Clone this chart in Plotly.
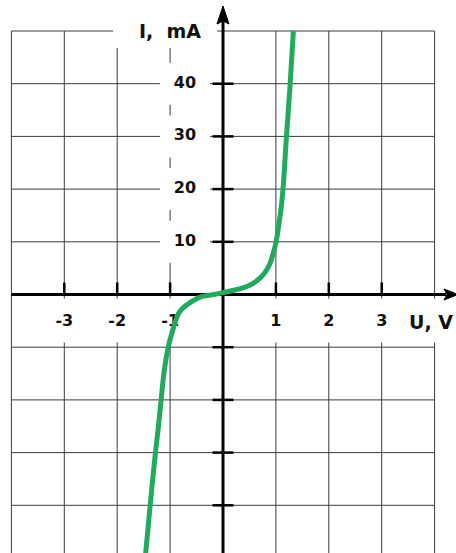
import plotly.graph_objects as go

# Current-voltage characteristic: U in volts, I in milliamps
voltage = [-1.47, -1.38, -1.28, -1.22, -1.17, -1.135, -1.10, -1.04, -0.98, -0.93,
           -0.84, -0.75, -0.66, -0.55, -0.43, -0.30, -0.17, 0.0, 0.20, 0.39,
           0.55, 0.64, 0.78, 0.875, 0.94, 1.00, 1.045, 1.09, 1.13, 1.20, 1.27, 1.33]
current = [-50.0, -40.3, -30.3, -25.0, -20.0, -16.5, -13.7, -10.2, -7.8, -6.1,
           -3.6, -2.5, -1.8, -1.1, -0.5, -0.2, 0.0, 0.35, 0.8, 1.3,
           2.0, 2.6, 4.0, 5.6, 7.5, 9.8, 12.6, 15.7, 19.5, 30.0, 40.0, 50.0]

# Axis labelling
x_tick_values = [-3, -2, -1, 1, 2, 3]
x_tick_labels = ["-3", "-2", "-1", "1", "2", "3"]
y_tick_values = [10, 20, 30, 40]
y_tick_labels = ["10", "20", "30", "40"]
y_tick_marks = [-40, -30, -20, -10, 10, 20, 30, 40]
grid_u = [-4, -3, -2, -1, 1, 2, 3, 4]
grid_i = [-40, -30, -20, -10, 10, 20, 30, 40, 50]

W, H = 456, 553
ORIGIN_X, ORIGIN_Y = 223.0, 294.5   # pixel position of (0, 0)
PX_PER_V, PX_PER_MA = 52.9, 5.27


def dx(px):
    return px / PX_PER_V


def dy(px):
    return px / PX_PER_MA


x_range = [-ORIGIN_X / PX_PER_V, (W - ORIGIN_X) / PX_PER_V]
y_range = [-(H - ORIGIN_Y) / PX_PER_MA, ORIGIN_Y / PX_PER_MA]

GRID = "#3c3c3c"
GREEN = "#1faa5c"
FONT = "DejaVu Sans"

shapes = []


def line(x0, y0, x1, y1, color, width):
    shapes.append(dict(type="line", xref="x", yref="y", x0=x0, y0=y0, x1=x1, y1=y1,
                       line=dict(color=color, width=width), layer="below"))


def box(x0, y0, x1, y1):
    shapes.append(dict(type="rect", xref="x", yref="y", x0=x0, y0=y0, x1=x1, y1=y1,
                       fillcolor="white", line=dict(width=0), layer="below"))


# grid
for u in grid_u:
    line(u, y_range[0] - 5, u, 50, GRID, 1)
for i in grid_i:
    line(-4, i, 4, i, GRID, 1)

# white backgrounds behind labels
box(dx(113 - ORIGIN_X), dy(ORIGIN_Y - 48), dx(217 - ORIGIN_X), dy(ORIGIN_Y - 14))
for v in y_tick_values:
    box(dx(160 - ORIGIN_X), v - dy(21), dx(210 - ORIGIN_X), v + dy(21))
for v in x_tick_values:
    box(v - dx(19), -dy(4), v + dx(19), -dy(48))
box(dx(400 - ORIGIN_X), -dy(4), x_range[1] + 1, -dy(48))

# axes
tip_y = dy(ORIGIN_Y - 6)
base_y = dy(ORIGIN_Y - 24)
line(-4, 0, dx(446 - ORIGIN_X), 0, "black", 3)
line(0, y_range[0] - 5, 0, base_y + 0.5, "black", 3)

# tick marks
for v in y_tick_marks:
    line(dx(-10.5), v, dx(10.5), v, "black", 2.5)
for v in x_tick_values:
    line(v, 0, v, dy(12), "black", 2.5)

# arrow heads
shapes.append(dict(type="path", xref="x", yref="y", layer="below",
                   path=f"M {-dx(6)} {base_y} L 0 {tip_y} L {dx(6)} {base_y} L 0 {base_y + dy(3)} Z",
                   fillcolor="black", line=dict(color="black", width=1)))
xb = dx(444 - ORIGIN_X)
xt = dx(458 - ORIGIN_X)
shapes.append(dict(type="path", xref="x", yref="y", layer="below",
                   path=f"M {xb} {dy(5.5)} L {xt} 0 L {xb} {-dy(5.5)} L {xb + dx(3)} 0 Z",
                   fillcolor="black", line=dict(color="black", width=1)))

fig = go.Figure()

# tick labels (drawn under the curve)
fig.add_trace(go.Scatter(
    x=x_tick_values, y=[-dy(27.5)] * len(x_tick_values), text=x_tick_labels,
    mode="text", textposition="middle center", hoverinfo="skip", showlegend=False,
    textfont=dict(family=FONT, size=16, color="#111111", weight="bold")))
fig.add_trace(go.Scatter(
    x=[dx(185 - ORIGIN_X)] * len(y_tick_values), y=y_tick_values, text=y_tick_labels,
    mode="text", textposition="middle center", hoverinfo="skip", showlegend=False,
    textfont=dict(family=FONT, size=16, color="#111111", weight="bold")))

# characteristic curve
fig.add_trace(go.Scatter(
    x=voltage, y=current, mode="lines", hoverinfo="skip", showlegend=False,
    line=dict(color=GREEN, width=5, shape="spline", smoothing=1.3)))

annotations = [
    dict(x=dx(170 - ORIGIN_X), y=50, xref="x", yref="y", text="I,\u00a0 mA",
         showarrow=False, xanchor="center", yanchor="middle",
         font=dict(family=FONT, size=19, color="#111111", weight="bold")),
    dict(x=dx(407 - ORIGIN_X), y=-dy(27.5), xref="x", yref="y", text="U, V",
         showarrow=False, xanchor="left", yanchor="middle",
         font=dict(family=FONT, size=19, color="#111111", weight="bold")),
]

fig.update_layout(
    width=W, height=H, margin=dict(l=0, r=0, t=0, b=0),
    paper_bgcolor="white", plot_bgcolor="white",
    xaxis=dict(range=x_range, visible=False, fixedrange=True),
    yaxis=dict(range=y_range, visible=False, fixedrange=True),
    shapes=shapes, annotations=annotations, showlegend=False,
)

fig.write_html("out.html")
